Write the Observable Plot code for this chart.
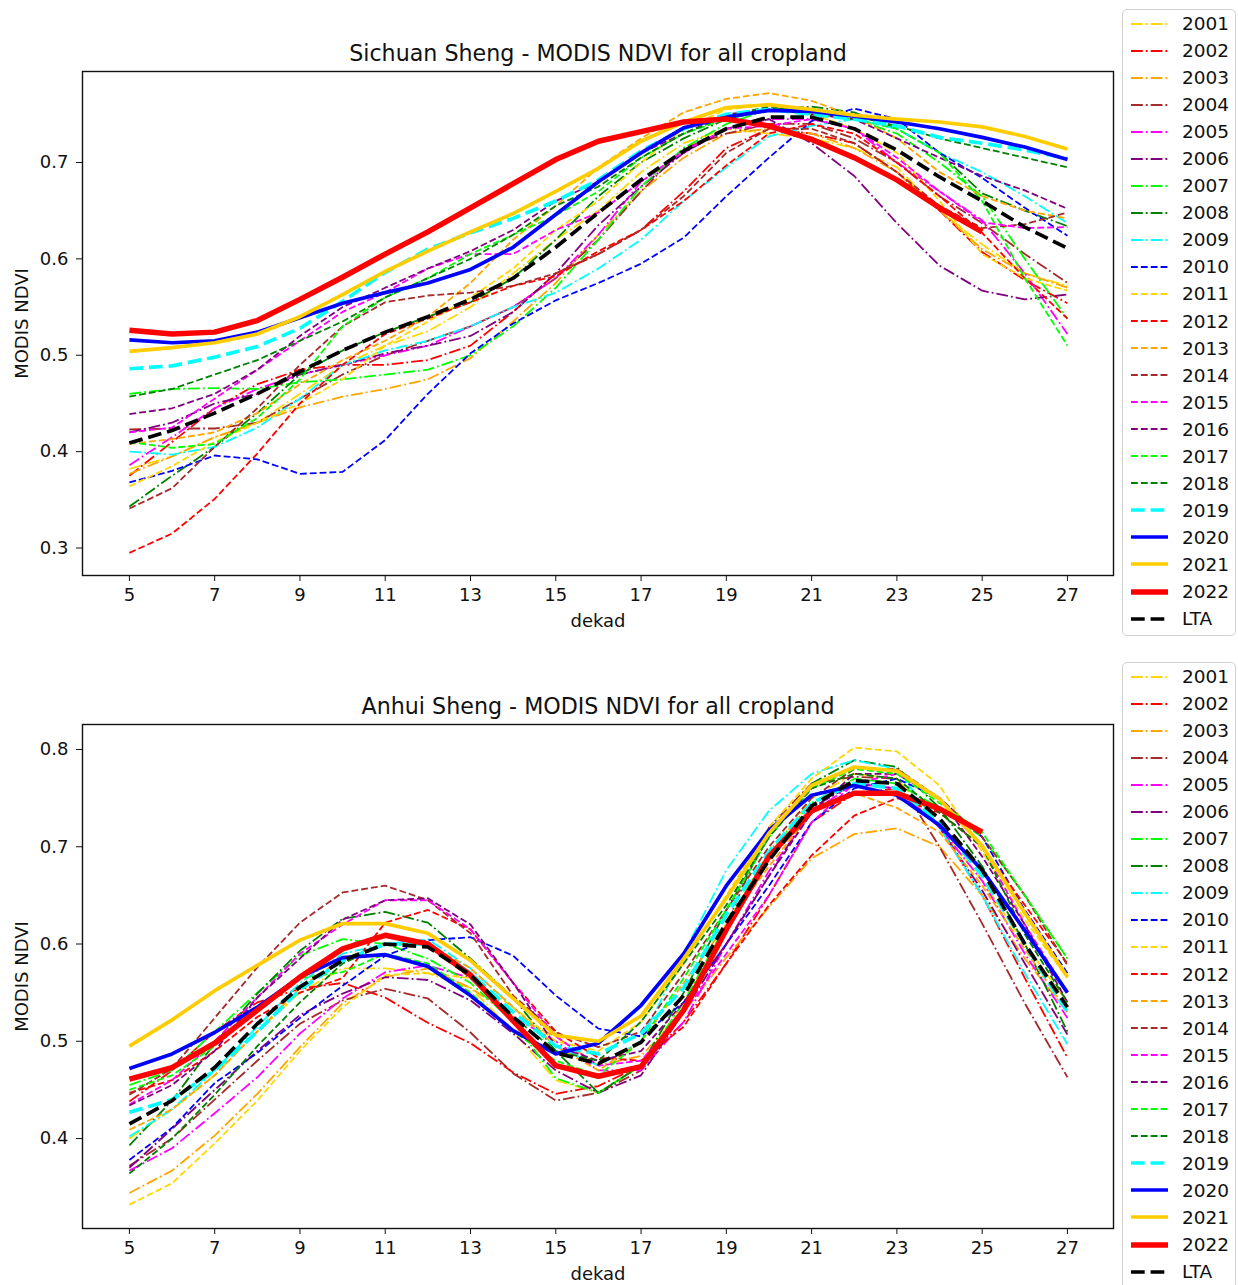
<!DOCTYPE html>
<html><head><meta charset="utf-8">
<script src="https://cdn.jsdelivr.net/npm/d3@7"></script>
<script src="https://cdn.jsdelivr.net/npm/@observablehq/plot@0.6"></script>
<style>
html,body{margin:0;padding:0;background:#fff;overflow:hidden}
#page{position:relative;width:1238px;height:1285px;overflow:hidden;font-family:"DejaVu Sans",sans-serif}
.panel{position:absolute;left:0;width:1238px}
.panel svg{display:block;background:#fff}
.legend{position:absolute;left:1122px;width:112px;border:1.5px solid #d0d0d0;border-radius:5px;background:#fff;padding:0 0 3px 0;box-sizing:content-box}
.row{display:flex;align-items:center;height:27.05px;padding-left:8px;font-size:18.5px;color:#111}
.row svg{width:37px;height:10px;margin-right:14px;flex:none}
</style></head><body><div id="page"></div>
<script>
const dekads=[5,6,7,8,9,10,11,12,13,14,15,16,17,18,19,20,21,22,23,24,25,26,27];
const xTicks=[5,7,9,11,13,15,17,19,21,23,25,27];
const years=["2001","2002","2003","2004","2005","2006","2007","2008","2009","2010","2011","2012","2013","2014","2015","2016","2017","2018","2019","2020","2021","2022","LTA"];
const colors=["#ffd700","#ff0000","#ffa500","#a52a2a","#ff00ff","#800080","#00ff00","#008000","#00ffff","#0000ff","#ffd700","#ff0000","#ffa500","#a52a2a","#ff00ff","#800080","#00ff00","#008000","#00ffff","#0000ff","#ffcc00","#ff0000","#000000"];

const s2001=[.382,.395,.415,.430,.460,.490,.510,.525,.550,.585,.620,.650,.690,.720,.735,.730,.725,.715,.695,.650,.615,.585,.572];
const s2002=[.375,.410,.445,.470,.485,.490,.490,.495,.510,.545,.585,.605,.630,.670,.715,.735,.730,.720,.690,.650,.607,.578,.554];
const s2003=[.377,.395,.415,.430,.446,.457,.465,.475,.497,.535,.575,.625,.670,.705,.730,.735,.730,.715,.690,.650,.610,.585,.570];
const s2004=[.423,.424,.424,.430,.455,.480,.500,.515,.530,.550,.580,.620,.670,.715,.730,.740,.740,.725,.700,.665,.637,.605,.575];
const s2005=[.386,.415,.445,.465,.480,.490,.500,.510,.530,.550,.580,.625,.680,.710,.735,.745,.745,.735,.700,.670,.640,.585,.522];
const s2006=[.420,.430,.450,.460,.480,.490,.502,.510,.520,.545,.585,.635,.675,.710,.735,.745,.720,.686,.637,.593,.567,.558,.563];
const s2007=[.460,.465,.466,.465,.472,.475,.480,.485,.500,.530,.570,.620,.675,.715,.740,.755,.755,.745,.730,.700,.665,.600,.538];
const s2008=[.343,.375,.405,.440,.480,.505,.524,.540,.555,.580,.620,.665,.700,.725,.745,.755,.758,.752,.735,.710,.668,.650,.634];
const s2009=[.400,.397,.405,.425,.455,.490,.505,.515,.530,.550,.565,.590,.620,.660,.695,.727,.738,.745,.735,.710,.690,.665,.637];
const s2010=[.368,.380,.396,.392,.377,.379,.412,.460,.502,.533,.557,.575,.595,.622,.665,.705,.743,.756,.745,.710,.684,.653,.624];
const s2011=[.364,.385,.410,.430,.450,.475,.510,.535,.560,.590,.630,.660,.700,.735,.755,.760,.750,.735,.710,.660,.605,.580,.567];
const s2012=[.295,.315,.351,.398,.450,.490,.522,.538,.555,.572,.582,.608,.630,.660,.697,.730,.740,.730,.700,.665,.627,.580,.538];
const s2013=[.408,.413,.420,.440,.470,.495,.515,.540,.575,.620,.655,.695,.725,.752,.766,.772,.764,.748,.725,.690,.665,.650,.642];
const s2014=[.341,.362,.405,.445,.490,.530,.555,.562,.565,.572,.585,.605,.630,.665,.710,.735,.735,.720,.690,.655,.632,.636,.648];
const s2015=[.420,.425,.455,.485,.515,.545,.565,.590,.605,.605,.630,.648,.680,.712,.735,.738,.745,.735,.705,.670,.638,.632,.633];
const s2016=[.439,.445,.460,.485,.520,.550,.570,.590,.608,.630,.660,.680,.710,.730,.750,.755,.750,.745,.725,.705,.686,.671,.652];
const s2017=[.410,.404,.408,.435,.475,.530,.560,.580,.605,.625,.645,.670,.705,.730,.745,.755,.750,.745,.735,.710,.660,.580,.510];
const s2018=[.457,.465,.480,.495,.515,.535,.560,.580,.600,.625,.655,.675,.705,.730,.748,.758,.755,.748,.738,.725,.715,.705,.695];
const s2019=[.486,.489,.498,.509,.528,.556,.586,.610,.627,.642,.660,.682,.712,.735,.750,.755,.750,.745,.738,.726,.720,.713,.704];
const s2020=[.516,.513,.515,.524,.539,.554,.565,.575,.589,.612,.646,.680,.710,.736,.747,.754,.753,.748,.742,.735,.726,.716,.703];
const s2021=[.504,.508,.513,.522,.540,.563,.587,.608,.628,.647,.670,.694,.722,.742,.757,.760,.755,.749,.745,.742,.737,.727,.714];
const s2022=[.526,.522,.524,.536,.558,.581,.605,.628,.653,.678,.703,.722,.732,.742,.745,.738,.724,.705,.682,.653,.628];
const sLTA=[.409,.422,.440,.460,.483,.505,.524,.540,.558,.580,.612,.648,.682,.712,.735,.747,.747,.735,.713,.685,.660,.633,.611];

const a2001=[.400,.430,.465,.510,.550,.575,.575,.570,.555,.510,.460,.447,.475,.540,.620,.690,.750,.775,.770,.720,.665,.600,.540];
const a2002=[.438,.470,.510,.540,.554,.560,.545,.519,.498,.468,.446,.454,.475,.520,.580,.650,.725,.755,.760,.720,.650,.565,.483];
const a2003=[.344,.367,.403,.446,.494,.539,.566,.575,.555,.525,.505,.475,.485,.530,.586,.638,.688,.713,.719,.700,.650,.585,.530];
const a2004=[.372,.400,.440,.480,.518,.542,.554,.544,.509,.467,.439,.447,.470,.530,.620,.720,.765,.772,.770,.700,.621,.539,.463];
const a2005=[.367,.390,.426,.463,.508,.544,.571,.578,.565,.525,.500,.470,.470,.520,.600,.675,.735,.765,.760,.720,.665,.590,.524];
const a2006=[.370,.410,.450,.490,.527,.549,.566,.563,.542,.508,.470,.447,.465,.530,.600,.670,.740,.765,.760,.720,.655,.580,.507];
const a2007=[.455,.470,.510,.550,.588,.605,.600,.585,.560,.520,.462,.447,.475,.540,.620,.695,.745,.770,.765,.740,.710,.650,.585];
const a2008=[.393,.439,.498,.549,.593,.626,.633,.622,.585,.545,.490,.447,.475,.550,.635,.710,.765,.789,.782,.740,.680,.600,.510];
const a2009=[.402,.430,.470,.515,.560,.590,.600,.605,.575,.535,.495,.475,.500,.590,.676,.737,.775,.789,.780,.720,.650,.570,.497];
const a2010=[.378,.411,.457,.488,.524,.557,.588,.604,.607,.588,.547,.513,.505,.540,.600,.660,.725,.760,.770,.750,.710,.635,.570];
const a2011=[.332,.354,.395,.439,.490,.535,.568,.570,.565,.535,.500,.490,.520,.580,.650,.720,.770,.802,.798,.763,.695,.625,.565];
const a2012=[.447,.460,.490,.525,.550,.565,.622,.635,.615,.560,.510,.483,.480,.515,.580,.640,.691,.732,.750,.735,.700,.640,.580];
const a2013=[.409,.430,.465,.510,.555,.585,.600,.600,.575,.535,.495,.470,.500,.560,.620,.680,.735,.755,.740,.715,.660,.595,.530];
const a2014=[.445,.472,.524,.576,.622,.653,.660,.645,.611,.547,.509,.494,.510,.570,.635,.700,.750,.780,.780,.750,.710,.650,.578];
const a2015=[.435,.460,.500,.545,.590,.620,.645,.645,.615,.560,.505,.475,.480,.530,.590,.650,.725,.765,.775,.750,.700,.620,.550];
const a2016=[.434,.455,.490,.545,.585,.625,.645,.647,.620,.560,.495,.480,.490,.540,.600,.670,.735,.775,.775,.750,.690,.620,.540];
const a2017=[.450,.465,.495,.535,.565,.571,.590,.580,.550,.510,.480,.465,.500,.565,.635,.710,.760,.780,.775,.745,.715,.650,.585];
const a2018=[.364,.400,.445,.495,.540,.580,.600,.600,.565,.525,.490,.480,.520,.580,.640,.710,.760,.775,.770,.735,.700,.610,.540];
const a2019=[.427,.440,.470,.510,.553,.583,.600,.600,.570,.530,.495,.487,.508,.555,.630,.695,.745,.765,.760,.725,.670,.600,.530];
const a2020=[.472,.487,.509,.535,.566,.586,.589,.577,.547,.511,.487,.498,.537,.590,.660,.717,.753,.763,.753,.722,.676,.614,.550];
const a2021=[.495,.522,.552,.578,.604,.621,.621,.611,.583,.544,.506,.500,.526,.585,.647,.714,.763,.782,.778,.749,.701,.632,.566];
const a2022=[.461,.473,.498,.532,.566,.595,.609,.600,.568,.521,.475,.464,.474,.532,.615,.690,.737,.755,.755,.739,.715];
const aLTA=[.415,.439,.473,.518,.556,.583,.600,.597,.568,.525,.488,.477,.499,.547,.622,.686,.742,.768,.765,.729,.676,.600,.535];

const sichuan=[s2001,s2002,s2003,s2004,s2005,s2006,s2007,s2008,s2009,s2010,s2011,s2012,s2013,s2014,s2015,s2016,s2017,s2018,s2019,s2020,s2021,s2022,sLTA];
const anhui=[a2001,a2002,a2003,a2004,a2005,a2006,a2007,a2008,a2009,a2010,a2011,a2012,a2013,a2014,a2015,a2016,a2017,a2018,a2019,a2020,a2021,a2022,aLTA];

function styleOf(i){
  if(i<9) return {w:1.8,dash:"11.8 3 1.85 3"};
  if(i<18) return {w:1.8,dash:"6.85 3"};
  if(i===18) return {w:3.7,dash:"13.7 5.9"};
  if(i===19||i===20) return {w:3.7,dash:null};
  if(i===21) return {w:5.5,dash:null};
  return {w:3.7,dash:"13.7 5.9"};
}
function chart(series,title,yDomain,yTicks,top,height){
  const marks=[];
  series.forEach((vals,i)=>{
    const st=styleOf(i);
    const rows=vals.map((v,k)=>({x:dekads[k],y:v}));
    marks.push(Plot.line(rows,{x:"x",y:"y",stroke:colors[i],strokeWidth:st.w,strokeDasharray:st.dash||undefined,curve:"linear",strokeLinejoin:"round",strokeLinecap:"butt"}));
  });
  const plot=Plot.plot({
    width:1238,height,marginLeft:82,marginRight:125,marginTop:71,marginBottom:height-575,
    style:{fontFamily:'"DejaVu Sans",sans-serif',background:"#fff",color:"#111"},
    x:{domain:[3.9,28.08]},y:{domain:yDomain},
    marks:[
      ...marks,
      Plot.frame({stroke:"#111",strokeWidth:1.4}),
      Plot.axisX({ticks:xTicks,tickFormat:d=>String(d),tickSize:6,tickPadding:7,fontSize:18,label:"dekad",labelAnchor:"center",labelArrow:"none",labelOffset:51}),
      Plot.axisY({ticks:yTicks,tickFormat:d=>d.toFixed(1),tickSize:6,tickPadding:8,fontSize:18,label:"MODIS NDVI",labelAnchor:"center",labelArrow:"none",labelOffset:67}),
      Plot.text([title],{frameAnchor:"top",dy:-11,text:d=>d,fontSize:22.2,fill:"#111",lineAnchor:"bottom"})
    ]
  });
  const p=document.createElement("div");p.className="panel";p.style.top=top+"px";p.appendChild(plot);
  return p;
}
function legend(top){
  const l=document.createElement("div");l.className="legend";l.style.top=top+"px";
  years.forEach((y,i)=>{
    const st=styleOf(i);
    const r=document.createElement("div");r.className="row";
    const dash=st.dash?` stroke-dasharray="${st.dash}"`:"";
    r.innerHTML=`<svg viewBox="0 0 37 10"><line x1="0" x2="37" y1="5" y2="5" stroke="${colors[i]}" stroke-width="${st.w}"${dash}/></svg><span>${y}</span>`;
    l.appendChild(r);
  });
  return l;
}
const page=document.getElementById("page");
page.appendChild(chart(sichuan,"Sichuan Sheng - MODIS NDVI for all cropland",[.2715,.7944],[.3,.4,.5,.6,.7],0,640));
page.appendChild(chart(anhui,"Anhui Sheng - MODIS NDVI for all cropland",[.3075,.8257],[.4,.5,.6,.7,.8],653,632));
page.appendChild(legend(9));
page.appendChild(legend(662));
</script></body></html>
